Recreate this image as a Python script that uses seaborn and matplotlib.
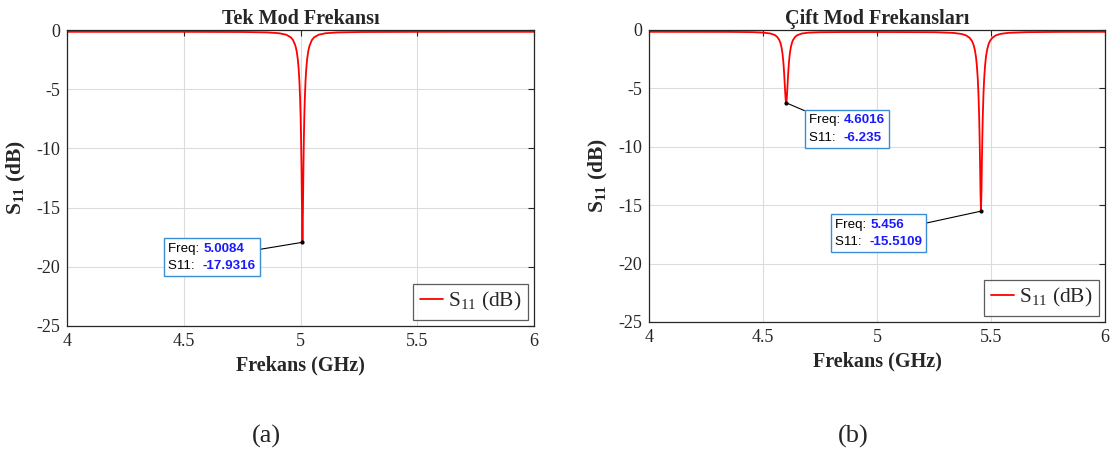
import numpy as np
import pandas as pd
import matplotlib
matplotlib.use("Agg")
import matplotlib.pyplot as plt
import seaborn as sns
from matplotlib.offsetbox import TextArea, HPacker, VPacker, AnnotationBbox

# ---- data ----
# (a) single mode
freq_a = [4.0, 4.5084, 4.7584, 4.8584, 4.9084, 4.9384, 4.9584, 4.9684, 4.9784, 4.9834,
          4.9884, 4.9924, 4.9954, 4.9984, 5.0004, 5.0024, 5.0044, 5.0064, 5.0084, 5.0104,
          5.0124, 5.0144, 5.0164, 5.0184, 5.0214, 5.0244, 5.0284, 5.0334, 5.0384, 5.0484,
          5.0584, 5.0784, 5.1084, 5.1584, 5.2584, 5.5084, 6.0]
s11_a = [-0.152, -0.155, -0.17, -0.205, -0.272, -0.395, -0.617, -0.86, -1.34, -1.77,
         -2.46, -3.35, -4.36, -5.85, -7.25, -9.16, -11.8, -15.4, -17.93, -15.4,
         -11.8, -9.16, -7.25, -5.85, -4.36, -3.35, -2.46, -1.77, -1.34, -0.86,
         -0.617, -0.395, -0.272, -0.205, -0.17, -0.155, -0.152]

# (b) dual mode
freq_b = [4.0, 4.35, 4.4516, 4.5016, 4.5316, 4.5516, 4.5616, 4.5716, 4.5766, 4.5816,
          4.5856, 4.5896, 4.5926, 4.5956, 4.5976, 4.5996, 4.6016, 4.6036, 4.6056, 4.6076,
          4.6106, 4.6136, 4.6176, 4.6216, 4.6266, 4.6316, 4.6416, 4.6516, 4.6716, 4.7016,
          4.7516, 4.85, 5.0, 5.15, 5.256, 5.336, 5.371, 5.391, 5.406, 5.416,
          5.423, 5.429, 5.434, 5.438, 5.442, 5.445, 5.448, 5.450, 5.452, 5.454,
          5.456, 5.458, 5.460, 5.462, 5.464, 5.467, 5.470, 5.474, 5.478, 5.483,
          5.489, 5.496, 5.506, 5.521, 5.541, 5.576, 5.656, 5.806, 6.0]
s11_b = [-0.155, -0.162, -0.183, -0.223, -0.296, -0.429, -0.574, -0.86, -1.12, -1.52,
         -2.04, -2.82, -3.66, -4.71, -5.43, -6.01, -6.235, -6.01, -5.43, -4.71,
         -3.66, -2.82, -2.04, -1.52, -1.12, -0.86, -0.574, -0.429, -0.296, -0.225,
         -0.19, -0.175, -0.172, -0.18, -0.19, -0.25, -0.34, -0.465, -0.665, -0.925,
         -1.24, -1.69, -2.29, -3.04, -4.18, -5.48, -7.38, -9.15, -11.41, -14.05,
         -15.51, -14.05, -11.41, -9.15, -7.38, -5.48, -4.18, -3.04, -2.29, -1.69,
         -1.24, -0.925, -0.663, -0.462, -0.335, -0.244, -0.185, -0.161, -0.155]

# datatips: (freq, s11, freq label, s11 label, box top-left x, box top-left y)
tips_a = [(5.0084, -17.9316, "5.0084", "-17.9316", 4.433, -17.95)]
tips_b = [(4.6016, -6.235, "4.6016", "-6.235", 4.702, -7.2),
          (5.456, -15.5109, "5.456", "-15.5109", 4.816, -16.15)]

titles = ["Tek Mod Frekansı", "Çift Mod Frekansları"]
captions = ["(a)", "(b)"]
xticks = [4, 4.5, 5, 5.5, 6]
yticks = [0, -5, -10, -15, -20, -25]

sns.set_style("white")
plt.rcParams["font.family"] = ["Liberation Serif", "DejaVu Serif"]
plt.rcParams["mathtext.fontset"] = "custom"
plt.rcParams["mathtext.rm"] = "Liberation Serif"
plt.rcParams["mathtext.bf"] = "Liberation Serif:bold"
plt.rcParams["mathtext.it"] = "Liberation Serif:italic"

W, H = 1114, 454
fig = plt.figure(figsize=(W / 100, H / 100), dpi=100)
ax1 = fig.add_axes([67 / W, 1 - 326 / H, (534 - 67) / W, (326 - 30) / H])
ax2 = fig.add_axes([649 / W, 1 - 322 / H, (1105 - 649) / W, (322 - 30) / H])

tip_blue = "#1a1aff"
edge_blue = "#3b8ed6"
tip_font = dict(family="Liberation Sans", size=9.6)

for ax, fx, fy, title, tips in [(ax1, freq_a, s11_a, titles[0], tips_a),
                                (ax2, freq_b, s11_b, titles[1], tips_b)]:
    df = pd.DataFrame({"f": fx, "s": fy})
    sns.lineplot(data=df, x="f", y="s", ax=ax, color="red", lw=1.3,
                 label=r"$\mathrm{S_{11}}$ (dB)")
    ax.set_xlim(4, 6)
    ax.set_ylim(-25, 0)
    ax.set_xticks(xticks)
    ax.set_xticklabels(["4", "4.5", "5", "5.5", "6"])
    ax.set_yticks(yticks)
    ax.set_yticklabels([str(t) for t in yticks])
    ax.grid(True, color="#dcdcdc", lw=0.8)
    ax.set_axisbelow(True)
    for sp in ax.spines.values():
        sp.set_color("#262626")
        sp.set_linewidth(0.9)
    ax.tick_params(direction="in", top=True, right=True, length=4, width=0.8,
                   labelsize=13, colors="#262626", pad=5)
    ax.set_title(title, fontsize=14.5, fontweight="bold", pad=4)
    ax.set_xlabel("Frekans (GHz)", fontsize=14.5, fontweight="bold", labelpad=4)
    ax.set_ylabel(r"$\mathbf{S_{11}}$ (dB)", fontsize=15.5, fontweight="bold", labelpad=6)

    leg = ax.legend(loc="lower right", fontsize=15.5, frameon=True, fancybox=False,
                    edgecolor="#333333", handlelength=1.1, handletextpad=0.2,
                    borderpad=0.3, borderaxespad=0.3)
    leg.get_frame().set_linewidth(0.9)

    for (px, py, lf, ls, bx, by) in tips:
        ax.plot([px], [py], "o", color="k", ms=2, zorder=5)
        row1 = HPacker(children=[TextArea("Freq: ", textprops=dict(color="k", **tip_font)),
                                 TextArea(lf, textprops=dict(color=tip_blue, weight="bold", **tip_font))],
                       align="baseline", pad=0, sep=0)
        row2 = HPacker(children=[TextArea("S11:  ", textprops=dict(color="k", **tip_font)),
                                 TextArea(ls, textprops=dict(color=tip_blue, weight="bold", **tip_font))],
                       align="baseline", pad=0, sep=0)
        box = VPacker(children=[row1, row2], align="left", pad=0, sep=4)
        ab = AnnotationBbox(box, (px, py), xybox=(bx, by), xycoords="data",
                            boxcoords="data", box_alignment=(0, 1),
                            bboxprops=dict(edgecolor=edge_blue, facecolor="white",
                                           lw=1, boxstyle="square,pad=0.3"),
                            arrowprops=dict(arrowstyle="-", color="k", lw=0.8,
                                            shrinkA=0, shrinkB=0))
        ax.add_artist(ab)

fig.text(266 / W, 1 - 436 / H, captions[0], fontsize=19, ha="center", va="center")
fig.text(853 / W, 1 - 436 / H, captions[1], fontsize=19, ha="center", va="center")

fig.savefig("out.png", dpi=100)
